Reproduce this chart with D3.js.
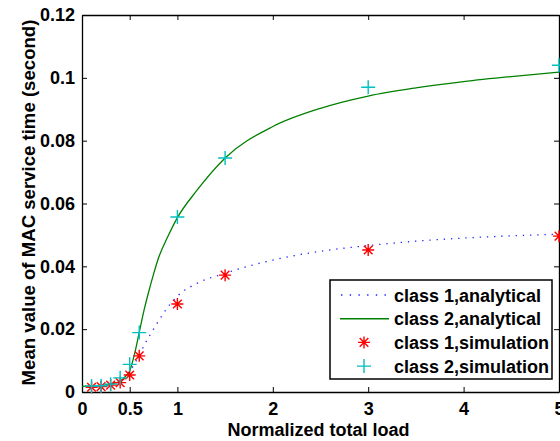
<!DOCTYPE html>
<html>
<head>
<meta charset="utf-8">
<script src="https://cdn.jsdelivr.net/npm/d3@7"></script>
<style>
  body { margin: 0; background: #fff; }
  text { font-family: "Liberation Sans", Arial, sans-serif; font-weight: bold; }
</style>
</head>
<body>
<div class="chart"></div>
<script>
// DATA ***********************************************************************
// analytical curves
const anaLoad = [0, 0.1, 0.2, 0.3, 0.4, 0.45, 0.5, 0.55, 0.6, 0.65, 0.7, 0.75, 0.8, 0.9, 1.0, 1.2, 1.5, 2, 2.5, 3, 3.5, 4, 4.5, 5];
const class1Ana = [0.0017, 0.0017, 0.0019, 0.0023, 0.0033, 0.0045, 0.0065, 0.009, 0.0115, 0.0148, 0.0175, 0.02, 0.0225, 0.027, 0.0305, 0.0345, 0.0378, 0.042, 0.0448, 0.0466, 0.048, 0.049, 0.0497, 0.0502];
const class2Ana = [0.0018, 0.0019, 0.002, 0.0025, 0.0035, 0.0048, 0.0068, 0.012, 0.019, 0.026, 0.032, 0.0375, 0.0425, 0.0495, 0.0555, 0.064, 0.0745, 0.0845, 0.0903, 0.0942, 0.0968, 0.0988, 0.1004, 0.1018];
// simulation points
const simLoad = [0.1, 0.2, 0.3, 0.4, 0.5, 0.6, 1, 1.5, 3, 5];
const class1Sim = [0.0015, 0.0017, 0.0022, 0.003, 0.0054, 0.0115, 0.028, 0.0372, 0.0452, 0.0496];
const class2Sim = [0.0019, 0.002, 0.0025, 0.0045, 0.0088, 0.0189, 0.0557, 0.0745, 0.097, 0.104];
const xTicks = [0, 0.5, 1, 2, 3, 4, 5];
const yTicks = [0, 0.02, 0.04, 0.06, 0.08, 0.1, 0.12];
const legendLabels = ["class 1,analytical", "class 2,analytical", "class 1,simulation", "class 2,simulation"];

// LAYOUT *********************************************************************
const width = 560, height = 441;
const plotLeft = 82, plotRight = 559, plotTop = 15, plotBottom = 392;

const svg = d3.select(".chart").append("svg")
  .attr("width", width).attr("height", height);

const xScale = d3.scaleLinear().domain([0, 5]).range([plotLeft, plotRight]);
const yScale = d3.scaleLinear().domain([0, 0.12]).range([plotBottom, plotTop]);

const fmt = d => (d === 0 ? "0" : String(d));

// AXES (matlab style box, ticks inward) ***************************************
svg.append("g").attr("transform", `translate(0,${plotBottom})`)
  .call(d3.axisBottom(xScale).tickValues(xTicks).tickFormat(fmt).tickSizeInner(-5).tickSizeOuter(0).tickPadding(10));
svg.append("g").attr("transform", `translate(0,${plotTop})`)
  .call(d3.axisTop(xScale).tickValues(xTicks).tickFormat("").tickSizeInner(-5).tickSizeOuter(0));
svg.append("g").attr("transform", `translate(${plotLeft},0)`)
  .call(d3.axisLeft(yScale).tickValues(yTicks).tickFormat(fmt).tickSizeInner(-5).tickSizeOuter(0).tickPadding(7));
svg.append("g").attr("transform", `translate(${plotRight},0)`)
  .call(d3.axisRight(yScale).tickValues(yTicks).tickFormat("").tickSizeInner(-5).tickSizeOuter(0));

svg.selectAll(".domain").attr("stroke", "#000").attr("stroke-width", 1.3);
svg.selectAll(".tick line").attr("stroke", "#000");
svg.selectAll(".tick text").attr("font-size", 18).attr("fill", "#000")
  .style("font-family", "'Liberation Sans', Arial, sans-serif").style("font-weight", "bold");

// axis titles
svg.append("text").attr("x", (plotLeft + plotRight) / 2 - 2).attr("y", 436)
  .attr("text-anchor", "middle").attr("font-size", 18).text("Normalized total load");
svg.append("text").attr("transform", `translate(35,${(plotTop + plotBottom) / 2 - 1}) rotate(-90)`)
  .attr("text-anchor", "middle").attr("font-size", 18.6).text("Mean value of MAC service time (second)");

// CURVES *********************************************************************
const line = d3.line().x(d => xScale(d[0])).y(d => yScale(d[1])).curve(d3.curveMonotoneX);

svg.append("path").datum(anaLoad.map((l, i) => [l, class1Ana[i]]))
  .attr("d", line).attr("fill", "none").attr("stroke", "#2020ff")
  .attr("stroke-width", 1.3).attr("stroke-dasharray", "1.3,5.9");
svg.append("path").datum(anaLoad.map((l, i) => [l, class2Ana[i]]))
  .attr("d", line).attr("fill", "none").attr("stroke", "#008000").attr("stroke-width", 1.3);

// markers
function star(g, cx, cy) {
  const r = 6, d = r * 0.72;
  const p = `M${cx - r},${cy}L${cx + r},${cy}M${cx},${cy - r}L${cx},${cy + r}` +
    `M${cx - d},${cy - d}L${cx + d},${cy + d}M${cx - d},${cy + d}L${cx + d},${cy - d}`;
  g.append("path").attr("d", p).attr("stroke", "#ff0000").attr("stroke-width", 1.4).attr("fill", "none");
}
function plus(g, cx, cy) {
  const r = 7;
  g.append("path").attr("d", `M${cx - r},${cy}L${cx + r},${cy}M${cx},${cy - r}L${cx},${cy + r}`)
    .attr("stroke", "#00c0c0").attr("stroke-width", 1.4).attr("fill", "none");
}
const markers = svg.append("g");
simLoad.forEach((l, i) => star(markers, xScale(l), yScale(class1Sim[i])));
simLoad.forEach((l, i) => plus(markers, xScale(l), yScale(class2Sim[i])));

// LEGEND *********************************************************************
const lg = svg.append("g");
lg.append("rect").attr("x", 330).attr("y", 280).attr("width", 222).attr("height", 99)
  .attr("fill", "#fff").attr("stroke", "#000").attr("stroke-width", 1.5);
legendLabels.forEach((t, i) => {
  const cy = 295 + i * 23.7;
  lg.append("text").attr("x", 394).attr("y", cy + 6.5).attr("font-size", 18).text(t);
  if (i === 0) lg.append("line").attr("x1", 341).attr("x2", 389).attr("y1", cy).attr("y2", cy)
    .attr("stroke", "#2020ff").attr("stroke-width", 1.4).attr("stroke-dasharray", "1.4,7.3");
  if (i === 1) lg.append("line").attr("x1", 340).attr("x2", 389).attr("y1", cy).attr("y2", cy)
    .attr("stroke", "#008000").attr("stroke-width", 1.4);
  if (i === 2) star(lg, 364, cy);
  if (i === 3) plus(lg, 364, cy);
});
</script>
</body>
</html>
